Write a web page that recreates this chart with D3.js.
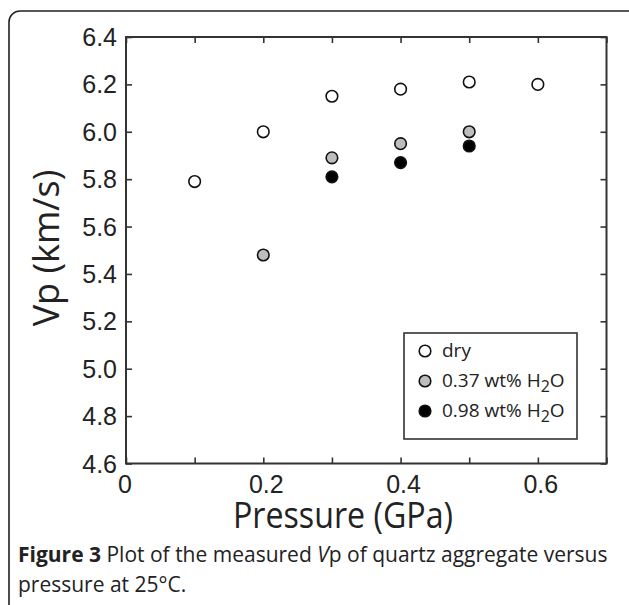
<!DOCTYPE html>
<html>
<head>
<meta charset="utf-8">
<script src="https://cdn.jsdelivr.net/npm/d3@7"></script>
<style>
  body { margin: 0; background: #fff; }
  svg { display: block; }
</style>
</head>
<body>
<div id="chart"></div>
<script>
var dryP = [0.1, 0.2, 0.3, 0.4, 0.5, 0.6];
var dryVp = [5.79, 6.00, 6.15, 6.18, 6.21, 6.20];
var wet37P = [0.2, 0.3, 0.4, 0.5];
var wet37Vp = [5.48, 5.89, 5.95, 6.00];
var wet98P = [0.3, 0.4, 0.5];
var wet98Vp = [5.81, 5.87, 5.94];
var xTicks = [0, 0.1, 0.2, 0.3, 0.4, 0.5, 0.6, 0.7];
var xLabels = [0, 0.2, 0.4, 0.6];
var yTicks = [4.6, 4.8, 5.0, 5.2, 5.4, 5.6, 5.8, 6.0, 6.2, 6.4];
var seriesNames = ["dry", "0.37 wt% H", "0.98 wt% H"];
var seriesFill = ["#fff", "#bdbdbd", "#000"];

var W = 629, H = 605;
var pLeft = 126, pRight = 606.5, pTop = 37, pBottom = 463.5;

var svg = d3.select("#chart").append("svg")
    .attr("width", W)
    .attr("height", H);

// outer rounded frame
svg.append("rect")
    .attr("x", 9).attr("y", 11)
    .attr("width", 640).attr("height", 620)
    .attr("rx", 11)
    .attr("fill", "none")
    .attr("stroke", "#222")
    .attr("stroke-width", 1.6);

var x = d3.scaleLinear().domain([0, 0.7]).range([pLeft, pRight]);
var y = d3.scaleLinear().domain([4.6, 6.4]).range([pBottom, pTop]);

var tickFont = "Liberation Sans, Arial, sans-serif";
var textFont = "Open Sans, sans-serif";

// plot frame
svg.append("rect")
    .attr("x", pLeft).attr("y", pTop)
    .attr("width", pRight - pLeft).attr("height", pBottom - pTop)
    .attr("fill", "none")
    .attr("stroke", "#333")
    .attr("stroke-width", 2);

var tl = 6;
function noDomain(g) { g.select(".domain").remove(); }
svg.append("g").attr("transform", "translate(0," + pBottom + ")")
    .call(d3.axisBottom(x).tickValues(xTicks).tickSizeInner(-tl).tickSizeOuter(0).tickFormat(""))
    .call(noDomain);
svg.append("g").attr("transform", "translate(0," + pTop + ")")
    .call(d3.axisTop(x).tickValues(xTicks).tickSizeInner(-tl).tickSizeOuter(0).tickFormat(""))
    .call(noDomain);
svg.append("g").attr("transform", "translate(" + pLeft + ",0)")
    .call(d3.axisLeft(y).tickValues(yTicks).tickSizeInner(-tl).tickSizeOuter(0).tickFormat(""))
    .call(noDomain);
svg.append("g").attr("transform", "translate(" + pRight + ",0)")
    .call(d3.axisRight(y).tickValues(yTicks).tickSizeInner(-tl).tickSizeOuter(0).tickFormat(""))
    .call(noDomain);
svg.selectAll(".tick line").attr("stroke", "#333").attr("stroke-width", 1.6);

// tick labels
svg.append("g").selectAll("text")
    .data(yTicks).enter().append("text")
    .attr("x", pLeft - 9)
    .attr("y", function(d) { return y(d) + 9; })
    .attr("text-anchor", "end")
    .style("font-family", tickFont)
    .style("font-size", "25px")
    .attr("fill", "#222")
    .text(function(d) { return d.toFixed(1); });

svg.append("g").selectAll("text")
    .data(xLabels).enter().append("text")
    .attr("x", function(d) { return x(d) + (d === 0 ? -1 : 3); })
    .attr("y", pBottom + 29)
    .attr("text-anchor", "middle")
    .style("font-family", tickFont)
    .style("font-size", "25px")
    .attr("fill", "#222")
    .text(function(d) { return d === 0 ? "0" : d.toFixed(1); });

// axis titles
svg.append("text")
    .attr("transform", "translate(59,248) rotate(-90)")
    .attr("text-anchor", "middle")
    .style("font-family", textFont)
    .style("font-size", "36px")
    .attr("fill", "#222")
    .text("Vp (km/s)");

svg.append("text")
    .attr("x", 343)
    .attr("y", 528)
    .attr("text-anchor", "middle")
    .attr("textLength", 220)
    .attr("lengthAdjust", "spacingAndGlyphs")
    .style("font-family", textFont)
    .style("font-size", "36px")
    .attr("fill", "#222")
    .text("Pressure (GPa)");

// points
function drawPoints(ps, vs, fill) {
    svg.append("g").selectAll("circle")
        .data(ps.map(function(p, i) { return [p, vs[i]]; }))
        .enter().append("circle")
        .attr("cx", function(d) { return x(d[0]); })
        .attr("cy", function(d) { return y(d[1]); })
        .attr("r", 5.8)
        .attr("fill", fill)
        .attr("stroke", "#111")
        .attr("stroke-width", 1.6);
}
drawPoints(dryP, dryVp, seriesFill[0]);
drawPoints(wet37P, wet37Vp, seriesFill[1]);
drawPoints(wet98P, wet98Vp, seriesFill[2]);

// legend
svg.append("rect")
    .attr("x", 404).attr("y", 333)
    .attr("width", 173).attr("height", 106)
    .attr("fill", "#fff")
    .attr("stroke", "#333")
    .attr("stroke-width", 1.6);

var lg = svg.append("g").selectAll("g")
    .data(seriesNames).enter().append("g")
    .attr("transform", function(d, i) { return "translate(425," + (351 + i * 30) + ")"; });
lg.append("circle")
    .attr("r", 5.8)
    .attr("fill", function(d, i) { return seriesFill[i]; })
    .attr("stroke", "#111")
    .attr("stroke-width", 1.6);
var lt = lg.append("text")
    .attr("x", 17)
    .attr("y", 6)
    .style("font-family", textFont)
    .style("font-size", "19px")
    .attr("fill", "#222")
    .text(function(d) { return d; });
lt.filter(function(d, i) { return i > 0; })
    .append("tspan").attr("dy", 5).style("font-size", "16px").text("2");
lt.filter(function(d, i) { return i > 0; })
    .append("tspan").attr("dy", -5).text("O");

// caption
var cap = svg.append("text")
    .attr("x", 18).attr("y", 562)
    .style("font-family", textFont)
    .style("font-size", "21px")
    .attr("fill", "#222");
cap.append("tspan").style("font-weight", "bold").text("Figure 3");
cap.append("tspan").text(" Plot of the measured ");
cap.append("tspan").style("font-style", "italic").text("V");
cap.append("tspan").text("p of quartz aggregate versus");
svg.append("text")
    .attr("x", 18).attr("y", 592)
    .style("font-family", textFont)
    .style("font-size", "21px")
    .attr("fill", "#222")
    .text("pressure at 25°C.");
</script>
</body>
</html>
